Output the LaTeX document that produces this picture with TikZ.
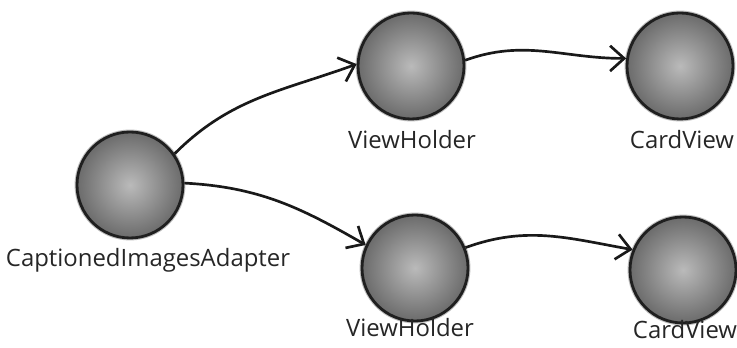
\documentclass[tikz,border=0pt]{standalone}
\usepackage{fontspec}
\setmainfont{Open Sans}
\usetikzlibrary{arrows.meta, shapes.geometric}

\begin{document}
\begin{tikzpicture}[
  obj/.style={circle,draw=black!88,line width=2pt,inner color=black!27,outer color=black!58,minimum size=2.65cm,
    preaction={draw=black!25,line width=3.5pt}},
  lbl/.style={font=\fontsize{17}{20}\selectfont,inner sep=0pt,black!85},
  arr/.style={-{Straight Barb[length=10pt,width=18pt,line width=1.9pt]},line width=1.9pt,black!90}
]
  \useasboundingbox (0,0) rectangle (18.425,8.7);
  \node[obj](ad)  at (3.25,4.075) {};
  \node[obj](vh1) at (10.275,7.05) {};
  \node[obj](cv1) at (17.0,7.05) {};
  \node[obj](vh2) at (10.375,2.0) {};
  \node[obj](cv2) at (17.075,1.95) {};
  \node[lbl](adl)  at (3.7,2.2)    {CaptionedImagesAdapter};
  \node[lbl](vh1l) at (10.3,5.2)   {ViewHolder};
  \node[lbl](cv1l) at (17.05,5.2)  {CardView};
  \node[lbl](vh2l) at (10.25,0.5)  {ViewHolder};
  \node[lbl](cv2l) at (17.125,0.45){CardView};
  \draw[arr](ad.35) to[out=45,in=200] (vh1.178);
  \draw[arr](ad.2) to[out=-3,in=150] (vh2.155);
  \draw[arr](vh1.6) to[out=20,in=180] (cv1.172);
  \draw[arr](vh2.22) to[out=20,in=170] (cv2.158);
\end{tikzpicture}
\end{document}
